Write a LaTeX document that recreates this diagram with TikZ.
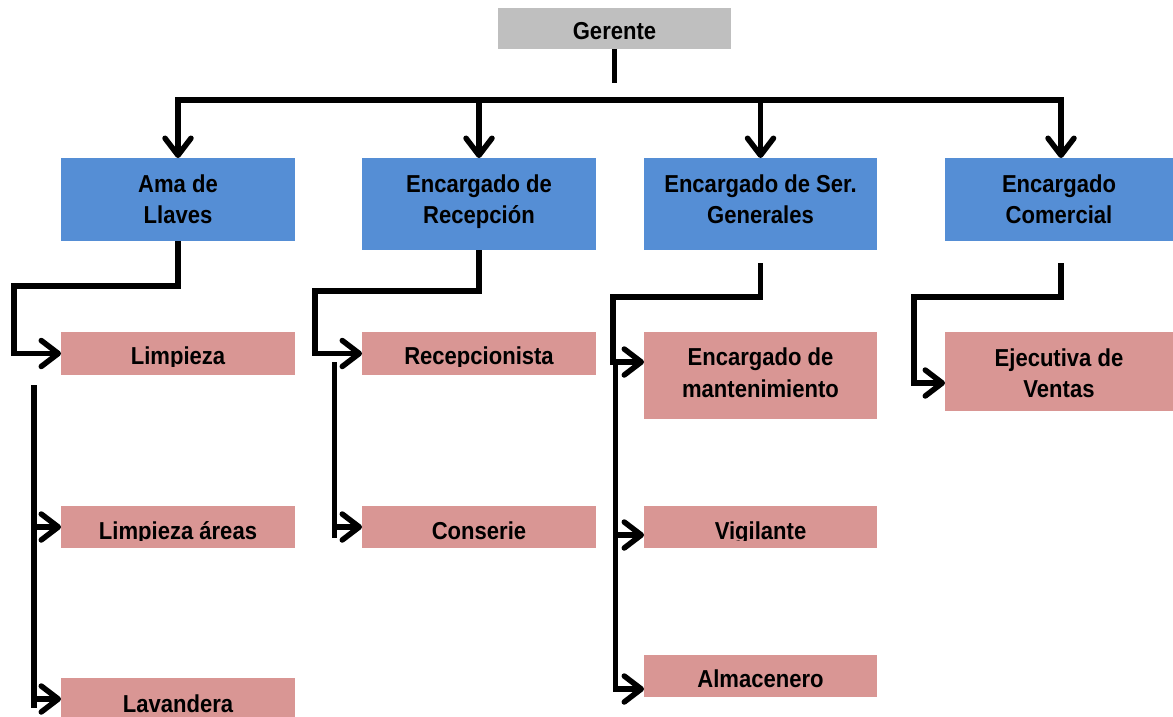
\documentclass[tikz,border=0pt]{standalone}
\usepackage{fontspec}
\setmainfont{Liberation Sans}[FakeStretch=0.9]
\usetikzlibrary{arrows.meta,fit}
\definecolor{bluebox}{HTML}{558ED5}
\definecolor{pinkbox}{HTML}{D99694}
\definecolor{graybox}{HTML}{BFBFBF}
\tikzset{
  box/.style={draw=none, inner sep=0pt, outer sep=0pt},
  headbox/.style={box, fill=graybox},
  mgrbox/.style={box, fill=bluebox},
  staffbox/.style={box, fill=pinkbox},
  conn/.style={line width=5.5pt, black},
  barb/.style={Straight Barb[length=17pt,width=26pt,line cap=round,line join=round]},
  arr/.style={conn, -{Straight Barb[length=17pt,width=26pt,line cap=round,line join=round]}},
  arrboth/.style={conn, {Straight Barb[length=17pt,width=26pt,line cap=round,line join=round]}-{Straight Barb[length=17pt,width=26pt,line cap=round,line join=round]}},
  lbl/.style={font=\fontsize{24.5}{30}\selectfont\bfseries, inner sep=0pt, anchor=base, text=black},
}
\begin{document}
\begin{tikzpicture}[x=1pt,y=-1pt]
\useasboundingbox (0,0) rectangle (1173,717);

% boxes
\node[headbox, fit={(498,8) (731,49)}] (G) {};
\node[mgrbox, fit={(61,158) (295,241)}] (A) {};
\node[mgrbox, fit={(362,158) (596,250)}] (B) {};
\node[mgrbox, fit={(644,158) (877,250)}] (C) {};
\node[mgrbox, fit={(945,158) (1173,241)}] (D) {};
\node[staffbox, fit={(61,332) (295,375)}] (A1) {};
\node[staffbox, fit={(61,506) (295,548)}] (A2) {};
\node[staffbox, fit={(61,678) (295,717)}] (A3) {};
\node[staffbox, fit={(362,332) (596,375)}] (B1) {};
\node[staffbox, fit={(362,506) (596,548)}] (B2) {};
\node[staffbox, fit={(644,332) (877,419)}] (C1) {};
\node[staffbox, fit={(644,506) (877,548)}] (C2) {};
\node[staffbox, fit={(644,655) (877,697)}] (C3) {};
\node[staffbox, fit={(945,332) (1173,411)}] (D1) {};

% labels
\node[lbl] (tG) at (614.5,39.5) {Gerente};
\node[lbl] (tA1) at (178,192) {Ama de};
\node[lbl] (tA2) at (178,223) {Llaves};
\node[lbl] (tB1) at (479,192) {Encargado de};
\node[lbl] (tB2) at (479,223) {Recepción};
\node[lbl] (tC1) at (760.5,192) {Encargado de Ser.};
\node[lbl] (tC2) at (760.5,223) {Generales};
\node[lbl] (tD1) at (1059,192) {Encargado};
\node[lbl] (tD2) at (1059,223) {Comercial};

\begin{scope}
  \clip (61,332) rectangle (295,366);
  \node[lbl] (tA1a) at (178,364.5) {Limpieza};
\end{scope}
\begin{scope}
  \clip (61,506) rectangle (295,540.5);
  \node[lbl] (tA2a) at (178,539.5) {Limpieza áreas};
\end{scope}
\node[lbl] (tA3a) at (178,712) {Lavandera};
\begin{scope}
  \clip (362,332) rectangle (596,366);
  \node[lbl] (tB1a) at (479,364.5) {Recepcionista};
\end{scope}
\begin{scope}
  \clip (362,506) rectangle (596,540.5);
  \node[lbl] (tB2a) at (479,539.5) {Conserie};
\end{scope}
\node[lbl] (tC1a) at (760.5,365) {Encargado de};
\node[lbl] (tC1b) at (760.5,397) {mantenimiento};
\begin{scope}
  \clip (644,506) rectangle (877,540.5);
  \node[lbl] (tC2a) at (760.5,539.5) {Vigilante};
\end{scope}
\node[lbl] (tC3a) at (760.5,687.5) {Almacenero};
\node[lbl] (tD1a) at (1059,366) {Ejecutiva de};
\node[lbl] (tD1b) at (1059,397) {Ventas};

% top level connectors
\coordinate (gstem) at (614.5,83);
\draw[conn] (G.south) -- (gstem);
\coordinate (barL) at (178,100);
\coordinate (barR) at (1061,100);
\draw[arrboth] (A.north) -- (barL) -- (barR) -- (D.north -| barR);
\draw[arr] (B.north |- barL) -- (B.north);
\draw[arr] (C.north |- barL) -- (C.north);

% Ama de Llaves
\draw[arr] (A.south) -- ++(0,45) -| ([xshift=-47pt]A1.west) -- (A1.west);
\coordinate (Avt) at (34,385);
\coordinate (Avb) at (34,708);
\draw[conn] (Avt) -- (Avb);
\draw[arr] (A2.west -| Avt) -- (A2.west);
\draw[arr] ([yshift=-1.5pt]A3.west -| Avt) -- ([yshift=-1.5pt]A3.west);

% Recepcion
\draw[arr] (B.south) -- ++(0,41) -| ([xshift=-47pt]B1.west) -- (B1.west);
\coordinate (Bvt) at (334.5,362);
\coordinate (Bvb) at (334.5,538);
\draw[conn] (Bvt) -- (Bvb);
\draw[arr] (B2.west -| Bvt) -- (B2.west);

% Ser. Generales
\coordinate (Cs) at ([yshift=-13pt]C.south);
\draw[arr] (Cs) -- ++(0,34) -| ([xshift=-31pt,yshift=13.5pt]C1.west) -- ([yshift=13.5pt]C1.west);
\coordinate (Cvt) at (615.5,365);
\coordinate (Cvb) at (615.5,692);
\draw[conn] (Cvt) -- (Cvb);
\draw[arr] ([yshift=-8pt]C2.west -| Cvt) -- ([yshift=-8pt]C2.west);
\draw[arr] ([yshift=-13pt]C3.west -| Cvt) -- ([yshift=-13pt]C3.west);

% Comercial
\coordinate (Ds) at ([yshift=-22pt]D.south -| barR);
\draw[arr] (Ds) -- ++(0,34) -| ([xshift=-31pt,yshift=-11.5pt]D1.west) -- ([yshift=-11.5pt]D1.west);
\end{tikzpicture}
\end{document}
